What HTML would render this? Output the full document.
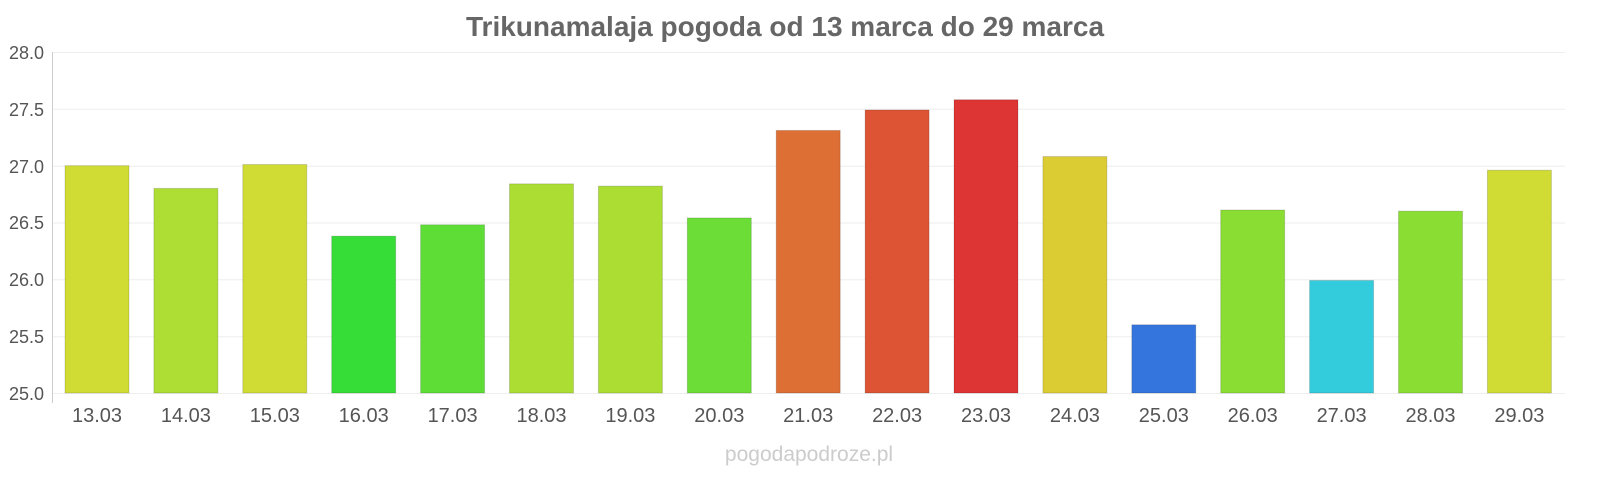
<!DOCTYPE html>
<html><head><meta charset="utf-8"><style>
html,body{margin:0;padding:0;background:#fff;overflow:hidden;width:1600px;height:480px;}
svg{display:block;font-family:"Liberation Sans",sans-serif;}
</style></head><body>
<svg width="1600" height="480" viewBox="0 0 1600 480">
<text x="785" y="36" text-anchor="middle" font-size="28" font-weight="bold" fill="#666">Trikunamalaja pogoda od 13 marca do 29 marca</text>
<g stroke="#eee" stroke-width="1">
<line x1="52" x2="1565" y1="52.5" y2="52.5"/>
<line x1="52" x2="1565" y1="109.3" y2="109.3"/>
<line x1="52" x2="1565" y1="166.2" y2="166.2"/>
<line x1="52" x2="1565" y1="223" y2="223"/>
<line x1="52" x2="1565" y1="279.8" y2="279.8"/>
<line x1="52" x2="1565" y1="336.7" y2="336.7"/>
<line x1="52" x2="1565" y1="393.5" y2="393.5"/>
</g>
<line x1="52.5" x2="52.5" y1="52" y2="403" stroke="#ccc"/>
<g font-size="18" fill="#555" text-anchor="end">
<text x="44" y="59">28.0</text>
<text x="44" y="116">27.5</text>
<text x="44" y="173">27.0</text>
<text x="44" y="229">26.5</text>
<text x="44" y="286">26.0</text>
<text x="44" y="343">25.5</text>
<text x="44" y="400">25.0</text>
</g>
<g id="bars"></g>
<g id="labels" font-size="20" fill="#555" text-anchor="middle"></g>
<text x="809" y="461" text-anchor="middle" font-size="21" fill="#ccc">pogodapodroze.pl</text>
<script>
var v=[27.0,26.8,27.01,26.38,26.48,26.84,26.82,26.54,27.31,27.49,27.58,27.08,25.6,26.61,25.99,26.6,26.96];
var c=["#d0dc34","#aedd33","#d0dc34","#36dd36","#5ddd36","#acdd33","#acdd33","#6cdd36","#dd6f34","#dd5434","#dd3434","#dccc34","#3475dd","#8add33","#33ccdd","#8add33","#d0dc34"];
var b=document.getElementById("bars"),l=document.getElementById("labels"),ns="http://www.w3.org/2000/svg";
for(var i=0;i<17;i++){var x=65+i*88.9,t=393-(v[i]-25)*113.67;
var r=document.createElementNS(ns,"rect");r.setAttribute("x",x);r.setAttribute("y",t);r.setAttribute("width",64);r.setAttribute("height",393-t);r.setAttribute("fill",c[i]);r.setAttribute("stroke","rgba(0,0,0,0.15)");b.appendChild(r);
var s=document.createElementNS(ns,"text");s.setAttribute("x",x+32);s.setAttribute("y",422);s.textContent=(13+i)+".03";l.appendChild(s);}
</script>
</svg>
</body></html>
